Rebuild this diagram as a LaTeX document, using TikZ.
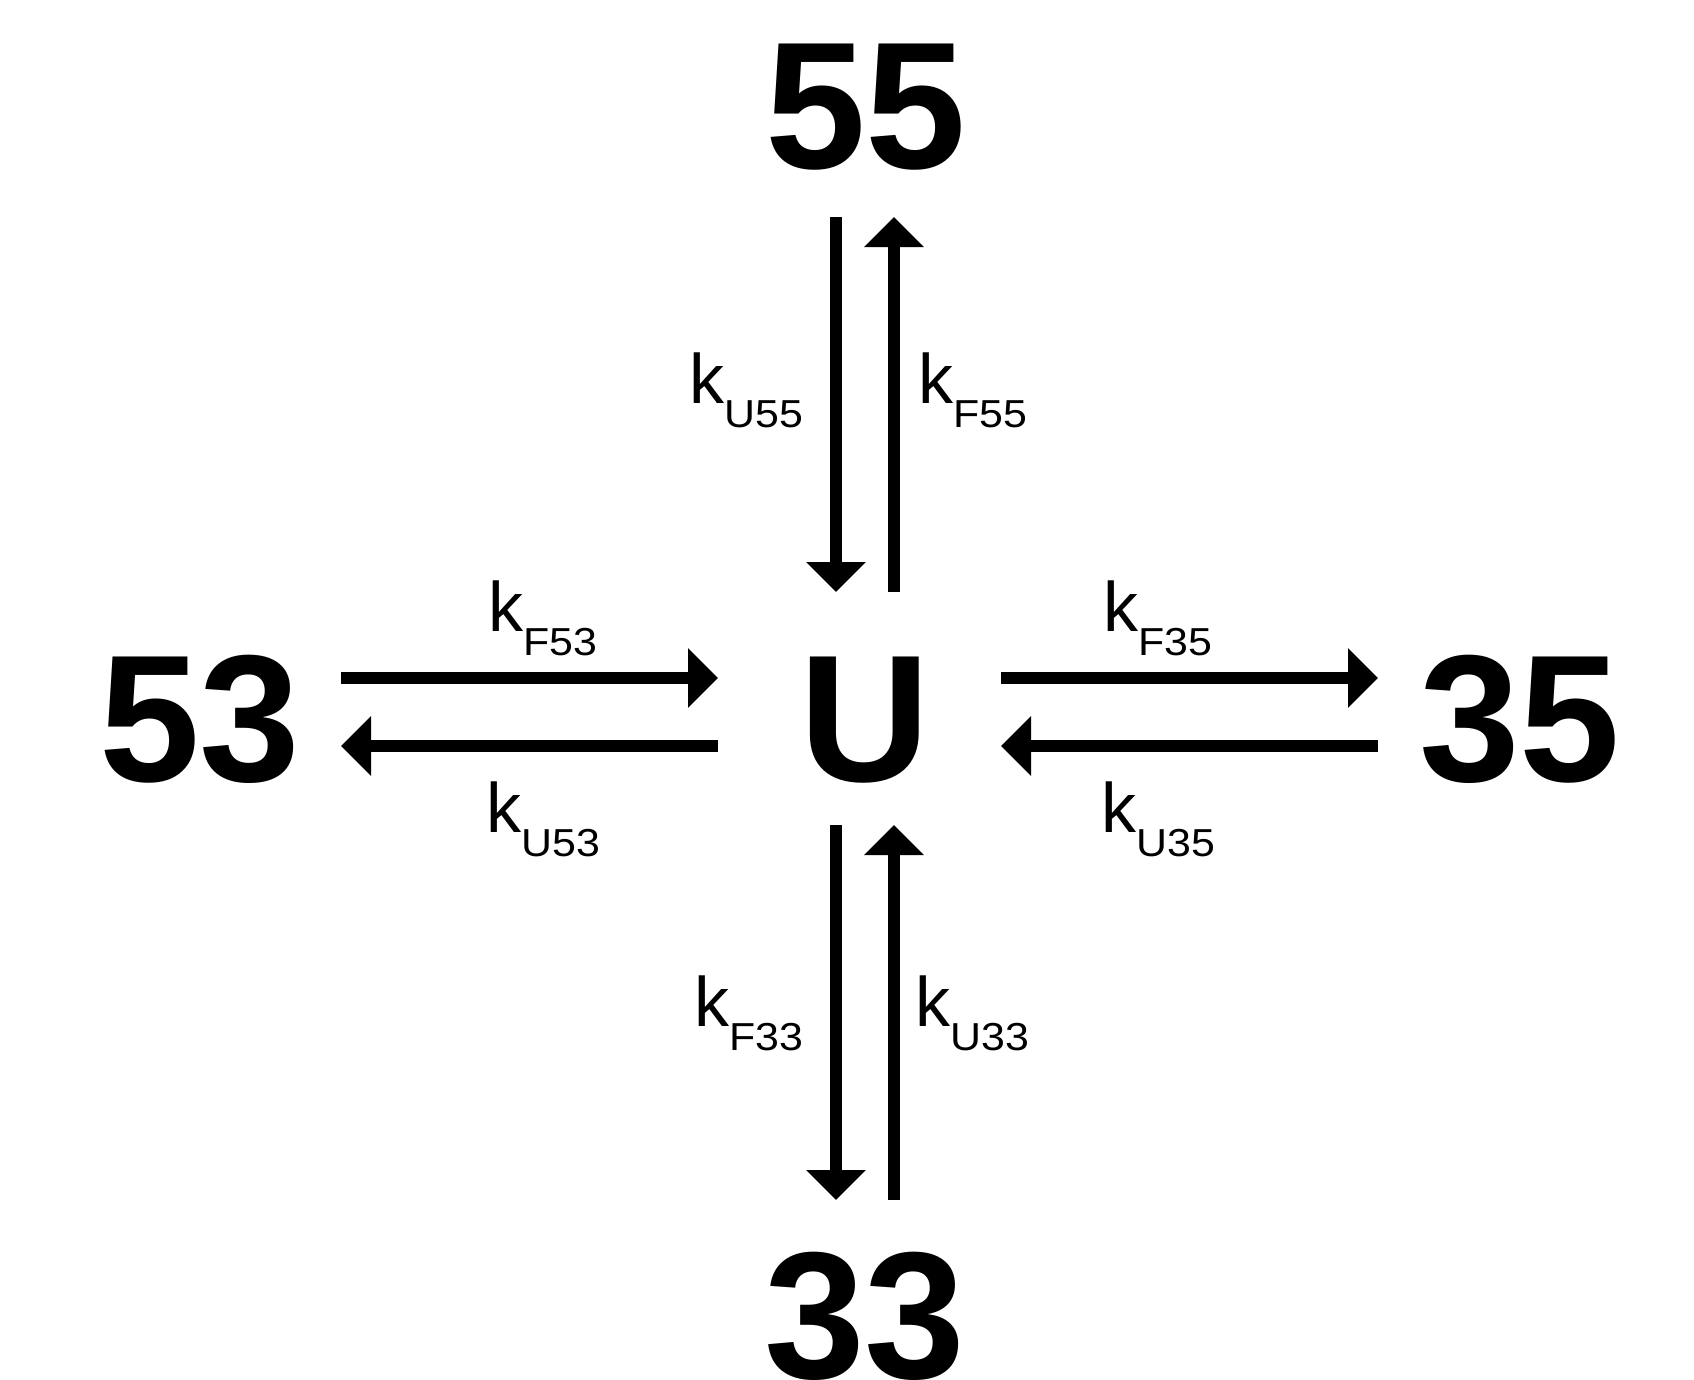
\documentclass[tikz,border=0pt]{standalone}
\usepackage{fontspec}
\usepackage{graphicx}
\setmainfont{Liberation Sans}
\usetikzlibrary{arrows.meta}
\tikzset{
  state/.style={inner sep=0pt, anchor=base, font=\fontsize{181}{181}\selectfont\bfseries},
  rate/.style={inner sep=0pt, anchor=base west, font=\fontsize{70}{70}\selectfont},
  arr/.style={line width=12pt, -{Triangle[width=58pt,length=30pt]}}
}
\newcommand{\rk}[1]{k\lower24pt\hbox{\scalebox{1.1}[1]{\fontsize{39}{39}\selectfont #1}}}
\begin{document}
\begin{tikzpicture}[x=1pt,y=-1pt]
\clip (0,0) rectangle (1694,1379);
\fill[white] (0,0) rectangle (1694,1379);
% states
\node[state] (s55) at (866,168) {55};
\node[state] (s53) at (200,781) {53};
\node[state] (sU) at (865,781) {U};
\node[state] (s35) at (1520,781) {35};
\node[state] (s33) at (865,1378) {33};
% arrow end points
\coordinate (t1) at (836,217); \coordinate (t2) at (836,592);
\coordinate (t3) at (894,592); \coordinate (t4) at (894,217);
\coordinate (l1) at (341,678); \coordinate (l2) at (718,678);
\coordinate (l3) at (718,746); \coordinate (l4) at (341,746);
\coordinate (r1) at (1001,678); \coordinate (r2) at (1378,678);
\coordinate (r3) at (1378,746); \coordinate (r4) at (1001,746);
\coordinate (b1) at (836,825); \coordinate (b2) at (836,1200);
\coordinate (b3) at (894,1200); \coordinate (b4) at (894,825);
% arrows
\draw[arr] (t1) -- (t2);
\draw[arr] (t3) -- (t4);
\draw[arr] (l1) -- (l2);
\draw[arr] (l3) -- (l4);
\draw[arr] (r1) -- (r2);
\draw[arr] (r3) -- (r4);
\draw[arr] (b1) -- (b2);
\draw[arr] (b3) -- (b4);
% rate labels
\node[rate] (kU55) at (689,403) {\rk{U55}};
\node[rate] (kF55) at (918,403) {\rk{F55}};
\node[rate] (kF53) at (488,631) {\rk{F53}};
\node[rate] (kU53) at (486,832) {\rk{U53}};
\node[rate] (kF35) at (1103,631) {\rk{F35}};
\node[rate] (kU35) at (1101,832) {\rk{U35}};
\node[rate] (kF33) at (694,1026) {\rk{F33}};
\node[rate] (kU33) at (915,1026) {\rk{U33}};
\end{tikzpicture}
\end{document}
